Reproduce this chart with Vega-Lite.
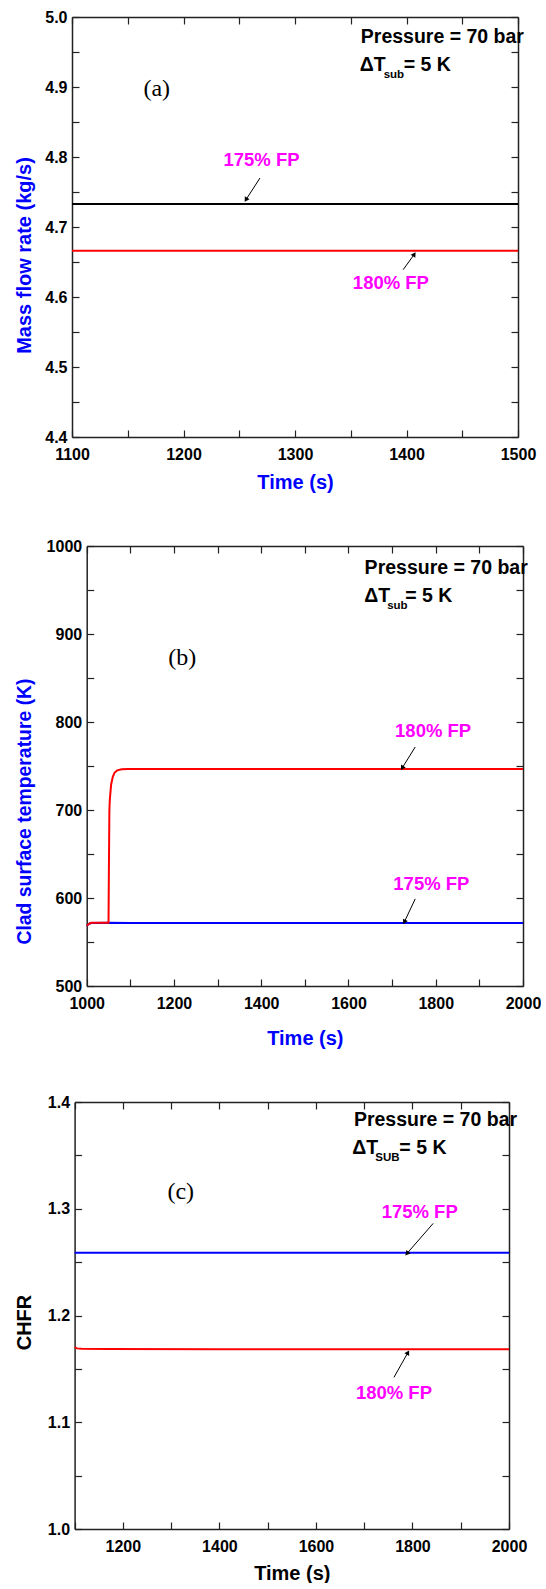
{
  "$schema": "https://vega.github.io/schema/vega-lite/v6.json",
  "background": "white",
  "padding": {"left": 14, "top": 9, "right": 0, "bottom": 0},
  "spacing": 45,
  "config": {
    "view": {"stroke": null},
    "axis": {
      "labelFont": "Liberation Sans", "labelFontWeight": "bold", "labelFontSize": 16, "labelColor": "#000000",
      "titleFont": "Liberation Sans", "titleFontWeight": "bold", "titleFontSize": 20, "titleColor": "#000000",
      "domainColor": "#222222", "domainWidth": 1.5, "tickColor": "#222222", "tickWidth": 1.2, "tickSize": -7,
      "grid": false, "labelFlush": false, "labelOverlap": false
    },
    "axisX": {"labelPadding": 16, "titlePadding": 10},
    "axisY": {"labelPadding": 12, "titlePadding": 11}
  },
  "resolve": {"scale": {"color": "independent"}},
  "datasets": {
    "a_lines": [
      {"t": 1100, "v": 4.733, "s": "175% FP"}, {"t": 1200, "v": 4.733, "s": "175% FP"}, {"t": 1300, "v": 4.733, "s": "175% FP"}, {"t": 1400, "v": 4.733, "s": "175% FP"}, {"t": 1500, "v": 4.733, "s": "175% FP"},
      {"t": 1100, "v": 4.666, "s": "180% FP"}, {"t": 1200, "v": 4.666, "s": "180% FP"}, {"t": 1300, "v": 4.666, "s": "180% FP"}, {"t": 1400, "v": 4.666, "s": "180% FP"}, {"t": 1500, "v": 4.666, "s": "180% FP"}
    ],
    "a_ann": [
      {"t": 1359, "v": 4.971, "txt": "Pressure = 70 bar", "k": "main"},
      {"t": 1358, "v": 4.931, "txt": "ΔT", "k": "main"},
      {"t": 1358, "v": 4.931, "txt": "sub", "k": "sub"},
      {"t": 1358, "v": 4.931, "txt": "= 5 K", "k": "rest"},
      {"t": 1176, "v": 4.897, "txt": "(a)", "k": "panel"},
      {"t": 1270, "v": 4.796, "txt": "175% FP", "k": "label"},
      {"t": 1386, "v": 4.62, "txt": "180% FP", "k": "label"}
    ],
    "a_arrows": [
      {"t": 1268.6, "v": 4.770, "t2": 1256, "v2": 4.739},
      {"t": 1397, "v": 4.639, "t2": 1407, "v2": 4.661}
    ],
    "b_lines": [
      {"t": 1000, "v": 568.5, "s": "175% FP"}, {"t": 1005, "v": 570.5, "s": "175% FP"}, {"t": 1010, "v": 571.5, "s": "175% FP"}, {"t": 1050, "v": 571.8, "s": "175% FP"}, {"t": 1100, "v": 571.6, "s": "175% FP"}, {"t": 1400, "v": 571.6, "s": "175% FP"}, {"t": 1700, "v": 571.6, "s": "175% FP"}, {"t": 2000, "v": 571.6, "s": "175% FP"},
      {"t": 1000, "v": 568.5, "s": "180% FP"}, {"t": 1005, "v": 570.5, "s": "180% FP"}, {"t": 1010, "v": 571.8, "s": "180% FP"}, {"t": 1050, "v": 572, "s": "180% FP"}, {"t": 1051, "v": 640, "s": "180% FP"}, {"t": 1052, "v": 700, "s": "180% FP"}, {"t": 1053, "v": 712, "s": "180% FP"}, {"t": 1056, "v": 729, "s": "180% FP"}, {"t": 1060, "v": 738, "s": "180% FP"}, {"t": 1064, "v": 742.5, "s": "180% FP"}, {"t": 1070, "v": 745, "s": "180% FP"}, {"t": 1080, "v": 746.3, "s": "180% FP"}, {"t": 1095, "v": 746.6, "s": "180% FP"}, {"t": 1400, "v": 746.6, "s": "180% FP"}, {"t": 1700, "v": 746.6, "s": "180% FP"}, {"t": 2000, "v": 746.6, "s": "180% FP"}
    ],
    "b_ann": [
      {"t": 1637, "v": 975, "txt": "Pressure = 70 bar", "k": "main"},
      {"t": 1636, "v": 943, "txt": "ΔT", "k": "main"},
      {"t": 1636, "v": 943, "txt": "sub", "k": "sub"},
      {"t": 1636, "v": 943, "txt": "= 5 K", "k": "rest"},
      {"t": 1219, "v": 873, "txt": "(b)", "k": "panel"},
      {"t": 1794, "v": 790, "txt": "180% FP", "k": "label"},
      {"t": 1790, "v": 616, "txt": "175% FP", "k": "label"}
    ],
    "b_arrows": [
      {"t": 1753, "v": 771.6, "t2": 1723, "v2": 747.7},
      {"t": 1753, "v": 599, "t2": 1728, "v2": 572.7}
    ],
    "c_lines": [
      {"t": 1100, "v": 1.2588, "s": "175% FP"}, {"t": 1300, "v": 1.2588, "s": "175% FP"}, {"t": 1500, "v": 1.2588, "s": "175% FP"}, {"t": 1700, "v": 1.2588, "s": "175% FP"}, {"t": 1900, "v": 1.2588, "s": "175% FP"}, {"t": 2000, "v": 1.2588, "s": "175% FP"},
      {"t": 1100, "v": 1.1703, "s": "180% FP"}, {"t": 1105, "v": 1.1692, "s": "180% FP"}, {"t": 1115, "v": 1.1688, "s": "180% FP"}, {"t": 1170, "v": 1.1686, "s": "180% FP"}, {"t": 1400, "v": 1.1684, "s": "180% FP"}, {"t": 1700, "v": 1.1684, "s": "180% FP"}, {"t": 2000, "v": 1.1684, "s": "180% FP"}
    ],
    "c_ann": [
      {"t": 1678.7, "v": 1.383, "txt": "Pressure = 70 bar", "k": "main"},
      {"t": 1675.4, "v": 1.3566, "txt": "ΔT", "k": "main"},
      {"t": 1675.4, "v": 1.3566, "txt": "SUB", "k": "sub"},
      {"t": 1675.4, "v": 1.3566, "txt": "= 5 K", "k": "rest"},
      {"t": 1320, "v": 1.3153, "txt": "(c)", "k": "panel"},
      {"t": 1815, "v": 1.2966, "txt": "175% FP", "k": "label"},
      {"t": 1761.6, "v": 1.127, "txt": "180% FP", "k": "label"}
    ],
    "c_arrows": [
      {"t": 1843, "v": 1.2863, "t2": 1788.5, "v2": 1.258},
      {"t": 1761.6, "v": 1.142, "t2": 1790.6, "v2": 1.1653}
    ]
  },
  "vconcat": [
    {
      "width": 446, "height": 420,
      "resolve": {"axis": {"x": "independent", "y": "independent"}},
      "layer": [
        {
          "data": {"name": "a_lines"},
          "mark": {"type": "line", "strokeWidth": 2},
          "encoding": {
            "x": {"field": "t", "type": "quantitative", "scale": {"domain": [1100, 1500], "nice": false, "zero": false},
                  "axis": {"orient": "bottom", "values": [1100,1150,1200,1250,1300,1350,1400,1450,1500], "format": "d", "labelExpr": "datum.value % 100 === 0 ? datum.label : ''", "title": "Time (s)", "titleColor": "#0000FF", "titlePadding": 10.5}},
            "y": {"field": "v", "type": "quantitative", "scale": {"domain": [4.4, 5.0], "nice": false, "zero": false},
                  "axis": {"orient": "left", "values": [4.4,4.45,4.5,4.55,4.6,4.65,4.7,4.75,4.8,4.85,4.9,4.95,5.0], "format": ".1f", "labelExpr": "round(datum.value*20) % 2 === 0 ? datum.label : ''", "title": "Mass flow rate (kg/s)", "titleColor": "#0000FF", "titlePadding": 10.4, "titleY": 238}},
            "color": {"field": "s", "type": "nominal", "scale": {"domain": ["175% FP", "180% FP"], "range": ["#000000", "#FF0000"]}, "legend": null}
          }
        },
        {
          "data": {"name": "a_ann"},
          "transform": [{"filter": "datum.k === 'main'"}],
          "mark": {"type": "text", "align": "left", "baseline": "middle", "font": "Liberation Sans", "fontWeight": "bold", "fontSize": 19.5, "color": "#000000"},
          "encoding": {
            "x": {"field": "t", "type": "quantitative", "axis": {"orient": "top", "values": [1100,1150,1200,1250,1300,1350,1400,1450,1500], "labels": false, "title": null}},
            "y": {"field": "v", "type": "quantitative", "axis": {"orient": "right", "values": [4.4,4.45,4.5,4.55,4.6,4.65,4.7,4.75,4.8,4.85,4.9,4.95,5.0], "labels": false, "title": null}},
            "text": {"field": "txt"}
          }
        },
        {
          "data": {"name": "a_ann"},
          "transform": [{"filter": "datum.k === 'sub'"}],
          "mark": {"type": "text", "align": "left", "baseline": "middle", "dx": 24, "dy": 10, "font": "Liberation Sans", "fontWeight": "bold", "fontSize": 11.5, "color": "#000000"},
          "encoding": {"x": {"field": "t", "type": "quantitative", "axis": null}, "y": {"field": "v", "type": "quantitative", "axis": null}, "text": {"field": "txt"}}
        },
        {
          "data": {"name": "a_ann"},
          "transform": [{"filter": "datum.k === 'rest'"}],
          "mark": {"type": "text", "align": "left", "baseline": "middle", "dx": 44, "font": "Liberation Sans", "fontWeight": "bold", "fontSize": 19.5, "color": "#000000"},
          "encoding": {"x": {"field": "t", "type": "quantitative", "axis": null}, "y": {"field": "v", "type": "quantitative", "axis": null}, "text": {"field": "txt"}}
        },
        {
          "data": {"name": "a_ann"},
          "transform": [{"filter": "datum.k === 'panel'"}],
          "mark": {"type": "text", "align": "center", "baseline": "middle", "font": "Liberation Serif", "fontSize": 24, "color": "#000000"},
          "encoding": {"x": {"field": "t", "type": "quantitative", "axis": null}, "y": {"field": "v", "type": "quantitative", "axis": null}, "text": {"field": "txt"}}
        },
        {
          "data": {"name": "a_ann"},
          "transform": [{"filter": "datum.k === 'label'"}],
          "mark": {"type": "text", "align": "center", "baseline": "middle", "font": "Liberation Sans", "fontWeight": "bold", "fontSize": 18.5, "color": "#FF00FF"},
          "encoding": {"x": {"field": "t", "type": "quantitative", "axis": null}, "y": {"field": "v", "type": "quantitative", "axis": null}, "text": {"field": "txt"}}
        },
        {
          "data": {"name": "a_arrows"},
          "mark": {"type": "rule", "color": "#000000", "strokeWidth": 1},
          "encoding": {"x": {"field": "t", "type": "quantitative", "axis": null}, "y": {"field": "v", "type": "quantitative", "axis": null}, "x2": {"field": "t2"}, "y2": {"field": "v2"}}
        },
        {
          "data": {"name": "a_arrows"},
          "transform": [{"filter": "datum.t2 < datum.t"}],
          "mark": {"type": "point", "shape": "triangle-up", "filled": true, "color": "#000000", "size": 30, "opacity": 1, "angle": 212},
          "encoding": {"x": {"field": "t2", "type": "quantitative", "axis": null}, "y": {"field": "v2", "type": "quantitative", "axis": null}}
        },
        {
          "data": {"name": "a_arrows"},
          "transform": [{"filter": "datum.t2 > datum.t"}],
          "mark": {"type": "point", "shape": "triangle-up", "filled": true, "color": "#000000", "size": 30, "opacity": 1, "angle": 34},
          "encoding": {"x": {"field": "t2", "type": "quantitative", "axis": null}, "y": {"field": "v2", "type": "quantitative", "axis": null}}
        }
      ]
    },
    {
      "width": 451, "height": 440,
      "resolve": {"axis": {"x": "independent", "y": "independent"}},
      "layer": [
        {
          "data": {"name": "b_lines"},
          "mark": {"type": "line", "strokeWidth": 2},
          "encoding": {
            "x": {"field": "t", "type": "quantitative", "scale": {"domain": [1000, 2000], "range": [14.7, 451], "nice": false, "zero": false},
                  "axis": {"orient": "bottom", "values": [1000,1100,1200,1300,1400,1500,1600,1700,1800,1900,2000], "format": "d", "labelExpr": "datum.value % 200 === 0 ? datum.label : ''", "title": "Time (s)", "titleColor": "#0000FF", "titlePadding": 17.5}},
            "y": {"field": "v", "type": "quantitative", "scale": {"domain": [500, 1000], "nice": false, "zero": false},
                  "axis": {"orient": "left", "offset": -14.7, "values": [500,550,600,650,700,750,800,850,900,950,1000], "format": "d", "labelExpr": "datum.value % 100 === 0 ? datum.label : ''", "title": "Clad surface temperature (K)", "titleColor": "#0000FF", "titlePadding": 11.7, "titleFontSize": 19.4, "titleY": 265}},
            "color": {"field": "s", "type": "nominal", "scale": {"domain": ["175% FP", "180% FP"], "range": ["#0000FF", "#FF0000"]}, "legend": null}
          }
        },
        {
          "data": {"name": "b_ann"},
          "transform": [{"filter": "datum.k === 'main'"}],
          "mark": {"type": "text", "align": "left", "baseline": "middle", "font": "Liberation Sans", "fontWeight": "bold", "fontSize": 19.5, "color": "#000000"},
          "encoding": {
            "x": {"field": "t", "type": "quantitative", "axis": {"orient": "top", "values": [1000,1100,1200,1300,1400,1500,1600,1700,1800,1900,2000], "labels": false, "title": null}},
            "y": {"field": "v", "type": "quantitative", "axis": {"orient": "right", "values": [500,550,600,650,700,750,800,850,900,950,1000], "labels": false, "title": null}},
            "text": {"field": "txt"}
          }
        },
        {
          "data": {"name": "b_ann"},
          "transform": [{"filter": "datum.k === 'sub'"}],
          "mark": {"type": "text", "align": "left", "baseline": "middle", "dx": 23, "dy": 10, "font": "Liberation Sans", "fontWeight": "bold", "fontSize": 11.5, "color": "#000000"},
          "encoding": {"x": {"field": "t", "type": "quantitative", "axis": null}, "y": {"field": "v", "type": "quantitative", "axis": null}, "text": {"field": "txt"}}
        },
        {
          "data": {"name": "b_ann"},
          "transform": [{"filter": "datum.k === 'rest'"}],
          "mark": {"type": "text", "align": "left", "baseline": "middle", "dx": 41, "font": "Liberation Sans", "fontWeight": "bold", "fontSize": 19.5, "color": "#000000"},
          "encoding": {"x": {"field": "t", "type": "quantitative", "axis": null}, "y": {"field": "v", "type": "quantitative", "axis": null}, "text": {"field": "txt"}}
        },
        {
          "data": {"name": "b_ann"},
          "transform": [{"filter": "datum.k === 'panel'"}],
          "mark": {"type": "text", "align": "center", "baseline": "middle", "font": "Liberation Serif", "fontSize": 24, "color": "#000000"},
          "encoding": {"x": {"field": "t", "type": "quantitative", "axis": null}, "y": {"field": "v", "type": "quantitative", "axis": null}, "text": {"field": "txt"}}
        },
        {
          "data": {"name": "b_ann"},
          "transform": [{"filter": "datum.k === 'label'"}],
          "mark": {"type": "text", "align": "center", "baseline": "middle", "font": "Liberation Sans", "fontWeight": "bold", "fontSize": 18.5, "color": "#FF00FF"},
          "encoding": {"x": {"field": "t", "type": "quantitative", "axis": null}, "y": {"field": "v", "type": "quantitative", "axis": null}, "text": {"field": "txt"}}
        },
        {
          "data": {"name": "b_arrows"},
          "mark": {"type": "rule", "color": "#000000", "strokeWidth": 1},
          "encoding": {"x": {"field": "t", "type": "quantitative", "axis": null}, "y": {"field": "v", "type": "quantitative", "axis": null}, "x2": {"field": "t2"}, "y2": {"field": "v2"}}
        },
        {
          "data": {"name": "b_arrows"},
          "transform": [{"filter": "datum.v2 > 700"}],
          "mark": {"type": "point", "shape": "triangle-up", "filled": true, "color": "#000000", "size": 30, "opacity": 1, "angle": 212},
          "encoding": {"x": {"field": "t2", "type": "quantitative", "axis": null}, "y": {"field": "v2", "type": "quantitative", "axis": null}}
        },
        {
          "data": {"name": "b_arrows"},
          "transform": [{"filter": "datum.v2 < 700"}],
          "mark": {"type": "point", "shape": "triangle-up", "filled": true, "color": "#000000", "size": 30, "opacity": 1, "angle": 206},
          "encoding": {"x": {"field": "t2", "type": "quantitative", "axis": null}, "y": {"field": "v2", "type": "quantitative", "axis": null}}
        }
      ]
    },
    {
      "width": 437, "height": 427,
      "resolve": {"axis": {"x": "independent", "y": "independent"}},
      "layer": [
        {
          "data": {"name": "c_lines"},
          "mark": {"type": "line", "strokeWidth": 2},
          "encoding": {
            "x": {"field": "t", "type": "quantitative", "scale": {"domain": [1100, 2000], "range": [2.6, 437], "nice": false, "zero": false},
                  "axis": {"orient": "bottom", "values": [1100,1200,1300,1400,1500,1600,1700,1800,1900,2000], "format": "d", "labelExpr": "datum.value % 200 === 0 ? datum.label : ''", "title": "Time (s)", "titlePadding": 9}},
            "y": {"field": "v", "type": "quantitative", "scale": {"domain": [1.0, 1.4], "nice": false, "zero": false},
                  "axis": {"orient": "left", "offset": -2.6, "values": [1.0,1.05,1.1,1.15,1.2,1.25,1.3,1.35,1.4], "format": ".1f", "labelExpr": "round(datum.value*20) % 2 === 0 ? datum.label : ''", "title": "CHFR", "titlePadding": 12.8, "titleY": 220}},
            "color": {"field": "s", "type": "nominal", "scale": {"domain": ["175% FP", "180% FP"], "range": ["#0000FF", "#FF0000"]}, "legend": null}
          }
        },
        {
          "data": {"name": "c_ann"},
          "transform": [{"filter": "datum.k === 'main'"}],
          "mark": {"type": "text", "align": "left", "baseline": "middle", "font": "Liberation Sans", "fontWeight": "bold", "fontSize": 19.5, "color": "#000000"},
          "encoding": {
            "x": {"field": "t", "type": "quantitative", "axis": {"orient": "top", "values": [1100,1200,1300,1400,1500,1600,1700,1800,1900,2000], "labels": false, "title": null}},
            "y": {"field": "v", "type": "quantitative", "axis": {"orient": "right", "values": [1.0,1.05,1.1,1.15,1.2,1.25,1.3,1.35,1.4], "labels": false, "title": null}},
            "text": {"field": "txt"}
          }
        },
        {
          "data": {"name": "c_ann"},
          "transform": [{"filter": "datum.k === 'sub'"}],
          "mark": {"type": "text", "align": "left", "baseline": "middle", "dx": 23, "dy": 10, "font": "Liberation Sans", "fontWeight": "bold", "fontSize": 11.5, "color": "#000000"},
          "encoding": {"x": {"field": "t", "type": "quantitative", "axis": null}, "y": {"field": "v", "type": "quantitative", "axis": null}, "text": {"field": "txt"}}
        },
        {
          "data": {"name": "c_ann"},
          "transform": [{"filter": "datum.k === 'rest'"}],
          "mark": {"type": "text", "align": "left", "baseline": "middle", "dx": 47, "font": "Liberation Sans", "fontWeight": "bold", "fontSize": 19.5, "color": "#000000"},
          "encoding": {"x": {"field": "t", "type": "quantitative", "axis": null}, "y": {"field": "v", "type": "quantitative", "axis": null}, "text": {"field": "txt"}}
        },
        {
          "data": {"name": "c_ann"},
          "transform": [{"filter": "datum.k === 'panel'"}],
          "mark": {"type": "text", "align": "center", "baseline": "middle", "font": "Liberation Serif", "fontSize": 24, "color": "#000000"},
          "encoding": {"x": {"field": "t", "type": "quantitative", "axis": null}, "y": {"field": "v", "type": "quantitative", "axis": null}, "text": {"field": "txt"}}
        },
        {
          "data": {"name": "c_ann"},
          "transform": [{"filter": "datum.k === 'label'"}],
          "mark": {"type": "text", "align": "center", "baseline": "middle", "font": "Liberation Sans", "fontWeight": "bold", "fontSize": 18.5, "color": "#FF00FF"},
          "encoding": {"x": {"field": "t", "type": "quantitative", "axis": null}, "y": {"field": "v", "type": "quantitative", "axis": null}, "text": {"field": "txt"}}
        },
        {
          "data": {"name": "c_arrows"},
          "mark": {"type": "rule", "color": "#000000", "strokeWidth": 1},
          "encoding": {"x": {"field": "t", "type": "quantitative", "axis": null}, "y": {"field": "v", "type": "quantitative", "axis": null}, "x2": {"field": "t2"}, "y2": {"field": "v2"}}
        },
        {
          "data": {"name": "c_arrows"},
          "transform": [{"filter": "datum.t2 < datum.t"}],
          "mark": {"type": "point", "shape": "triangle-up", "filled": true, "color": "#000000", "size": 30, "opacity": 1, "angle": 221},
          "encoding": {"x": {"field": "t2", "type": "quantitative", "axis": null}, "y": {"field": "v2", "type": "quantitative", "axis": null}}
        },
        {
          "data": {"name": "c_arrows"},
          "transform": [{"filter": "datum.t2 > datum.t"}],
          "mark": {"type": "point", "shape": "triangle-up", "filled": true, "color": "#000000", "size": 30, "opacity": 1, "angle": 29},
          "encoding": {"x": {"field": "t2", "type": "quantitative", "axis": null}, "y": {"field": "v2", "type": "quantitative", "axis": null}}
        }
      ]
    }
  ]
}
